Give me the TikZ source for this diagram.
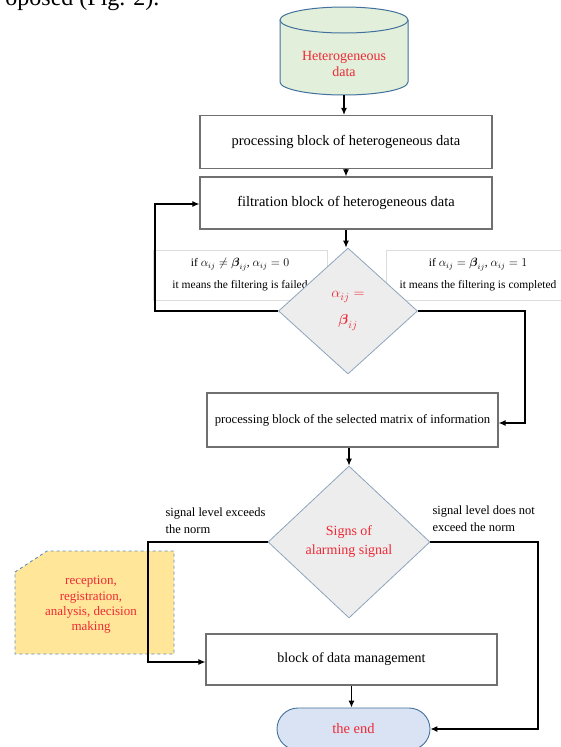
\documentclass[tikz,border=0pt]{standalone}
\usepackage{amsmath}
\usepackage{fontspec}
\setmainfont{Liberation Serif}
\usetikzlibrary{shapes.geometric,arrows.meta}
\definecolor{dbfill}{HTML}{E2EFDA}
\definecolor{dbline}{HTML}{41719C}
\definecolor{boxgray}{HTML}{707070}
\definecolor{decfill}{HTML}{EDEDED}
\definecolor{decline}{HTML}{8EA4BE}
\definecolor{notegray}{HTML}{DCDCDC}
\definecolor{actfill}{HTML}{FFE699}
\definecolor{actline}{HTML}{5B8DC4}
\definecolor{endfill}{HTML}{DAE3F3}
\definecolor{alarmred}{HTML}{EE2A36}
\begin{document}
\begin{tikzpicture}[x=1pt,y=-1pt,>={Latex[length=7pt,width=6pt]},
  blk/.style={draw=boxgray,line width=1.2pt,minimum width=292pt,minimum height=53pt,inner sep=2pt,font=\fontsize{14.5}{17}\selectfont},
  dec/.style={diamond,draw=decline,fill=decfill,line width=.8pt,inner sep=0pt,text=alarmred,align=center,font=\fontsize{14}{19}\selectfont},
  note/.style={draw=notegray,fill=white,line width=.8pt,align=center,font=\fontsize{11.5}{22}\selectfont},
  side/.style={anchor=west,align=left,font=\fontsize{12.5}{17}\selectfont},
  arr/.style={->,line width=1.1pt}]
  \useasboundingbox (0,0) rectangle (561,747);
  \node[anchor=base east,font=\fontsize{24}{28}\selectfont] (cap) at (163,5) {oposed (Fig. 2).};
  % data store
  \draw[draw=dbline,fill=dbfill,line width=1pt] (280,20) -- (280,82) arc[start angle=180,end angle=360,x radius=64pt,y radius=13pt] -- (408,20);
  \draw[draw=dbline,fill=dbfill,line width=1pt] (344,20) ellipse[x radius=64pt,y radius=13pt];
  \coordinate (dbbot) at (344,95);
  \node[text=alarmred,align=center,font=\fontsize{14}{16.5}\selectfont] (db) at (344,64) {Heterogeneous\\data};
  \node[blk] (proc) at (346,142) {processing block of heterogeneous data};
  \node[blk,minimum height=52pt] (filt) at (346,203) {filtration block of heterogeneous data};
  \node[note,minimum width=174pt,minimum height=50pt] (ifno) at (240,275) {if $\alpha_{ij} \neq \boldsymbol{\beta}_{ij}$, $\alpha_{ij} = 0$\\it means the filtering is failed};
  \node[note,minimum width=184pt,minimum height=50pt] (ifyes) at (478,275) {if $\alpha_{ij} = \boldsymbol{\beta}_{ij}$, $\alpha_{ij} = 1$\\it means the filtering is completed};
  \node[dec,minimum width=139pt,minimum height=126pt,font=\fontsize{15}{27}\selectfont] (cmp) at (348,311) {$\alpha_{ij} =$\\$\boldsymbol{\beta}_{ij}$};
  \node[blk,minimum width=291pt,minimum height=54pt,font=\fontsize{12.7}{15}\selectfont] (sel) at (352.5,420) {processing block of the selected matrix of information};
  \node[dec,minimum width=162pt,minimum height=152pt] (alarm) at (349,542) {Signs of\\alarming signal};
  \node[side] (over) at (162,521) {signal level exceeds\\the norm};
  \node[side] (under) at (429,519) {signal level does not\\exceed the norm};
  % yellow side box
  \draw[dashed,draw=actline,fill=actfill,line width=.9pt] (15,572) -- (47,551) -- (174,551) -- (174,654) -- (15,654) -- cycle;
  \node[text=alarmred,align=center,font=\fontsize{13}{15.3}\selectfont] (act) at (91,605) {reception,\\registration,\\analysis, decision\\making};
  \node[blk,minimum width=291pt,minimum height=51pt,font=\fontsize{14}{17}\selectfont] (mgmt) at (351.5,659.5) {block of data management};
  \node[draw=dbline,fill=endfill,rounded corners=21pt,minimum width=153pt,minimum height=42pt,line width=.9pt,text=alarmred,font=\fontsize{14.5}{17}\selectfont] (fin) at (353.5,729) {the end};
  \coordinate (fl) at (155,204);
  \coordinate (fr) at (525,423);
  \coordinate (ml) at (148,662);
  \coordinate (mr) at (538,729);
  \draw[arr] (dbbot) -- (dbbot |- proc.north);
  \draw[arr] (proc.south) -- (filt.north);
  \draw[arr] (filt.south) -- (filt.south |- cmp.north);
  \draw[arr] (cmp.west) -| (fl) -- (fl -| filt.west);
  \draw[arr] (cmp.east) -| (fr) -- (fr -| sel.east);
  \draw[arr] (sel.south -| alarm.north) -- (alarm.north);
  \draw[arr] (alarm.west) -| (ml) -- (ml -| mgmt.west);
  \draw[arr] (alarm.east) -| (mr) -- (fin.east);
  \draw[arr] (mgmt.south) -- (mgmt.south |- fin.north);
\end{tikzpicture}
\end{document}
